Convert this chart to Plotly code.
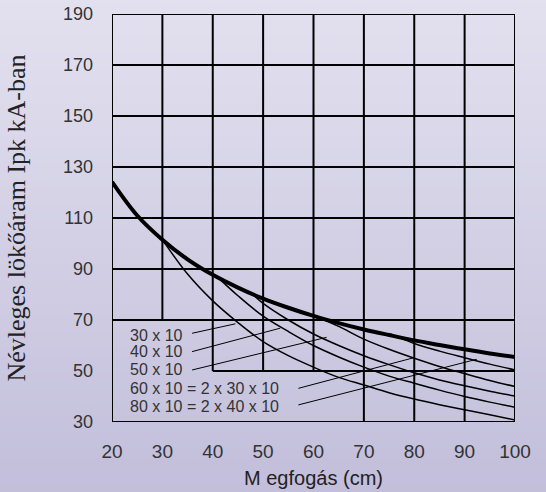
import plotly.graph_objects as go

# ---- data ----
thick_x = [20, 25, 30, 35, 40, 45, 50, 55, 60, 65, 70, 75, 80, 85, 90, 95, 100]
thick_y = [124.2, 111.0, 101.5, 93.8, 87.7, 82.7, 78.4, 74.8, 71.6, 68.8, 66.3, 64.1, 62.0, 60.2, 58.5, 56.9, 55.5]

c30_x = [30, 35, 40, 45, 50, 55, 60, 65, 70, 75, 80, 85, 90, 95, 100]
c30_y = [101.5, 88.0, 77.5, 69.0, 61.5, 56.0, 51.5, 47.5, 44.5, 41.5, 39.0, 36.8, 34.8, 32.8, 30.8]

c40_x = [41, 45, 50, 55, 60, 65, 70, 75, 80, 85, 90, 95, 100]
c40_y = [86.7, 79.5, 71.5, 65.5, 60.0, 55.5, 51.5, 48.0, 45.2, 42.5, 40.0, 37.8, 35.8]

c50_x = [48, 50, 55, 60, 65, 70, 75, 80, 85, 90, 95, 100]
c50_y = [80.0, 76.5, 70.0, 64.5, 60.0, 56.0, 52.5, 49.3, 46.5, 44.2, 42.1, 40.2]

c60_x = [61, 65, 70, 75, 80, 85, 90, 95, 100]
c60_y = [71.0, 67.5, 62.5, 58.5, 55.0, 51.8, 49.0, 46.3, 43.9]

c80_x = [77, 80, 85, 90, 95, 100]
c80_y = [63.2, 60.8, 57.8, 55.2, 52.7, 50.4]

labels = ["30 x 10", "40 x 10", "50 x 10",
          "60 x 10 = 2 x 30 x 10", "80 x 10 = 2 x 40 x 10"]
label_x = [23.3, 23.3, 23.3, 23.3, 23.3]
label_y = [64.1, 57.6, 50.4, 43.2, 36.0]
leader_x0 = [35.9, 35.9, 35.9, 57.0, 57.0]
leader_y0 = [64.8, 57.6, 50.4, 43.2, 36.7]
leader_x1 = [44.5, 53.4, 62.6, 80.1, 92.4]
leader_y1 = [68.5, 66.8, 63.2, 55.3, 54.6]

x_ticks = [20, 30, 40, 50, 60, 70, 80, 90, 100]
y_ticks = [30, 50, 70, 90, 110, 130, 150, 170, 190]

# grid segments: (x, y_from, y_to) and (y, x_from, x_to)
v_grid = [(30, 70, 190), (40, 50, 190), (50, 50, 190), (60, 50, 190),
          (70, 30, 190), (80, 30, 190), (90, 30, 190)]
h_grid = [(50, 40, 100), (70, 20, 100), (90, 20, 100), (110, 20, 100),
          (130, 20, 100), (150, 20, 100), (170, 20, 100)]

fig = go.Figure()

thin = dict(color="black", width=1.5)
for xs, ys, nm in [(c30_x, c30_y, labels[0]), (c40_x, c40_y, labels[1]),
                   (c50_x, c50_y, labels[2]), (c60_x, c60_y, labels[3]),
                   (c80_x, c80_y, labels[4])]:
    fig.add_trace(go.Scatter(x=xs, y=ys, mode="lines", line=dict(shape="spline", **thin),
                             name=nm, showlegend=False, hoverinfo="skip"))

fig.add_trace(go.Scatter(x=thick_x, y=thick_y, mode="lines",
                         line=dict(color="black", width=4, shape="spline"),
                         showlegend=False, hoverinfo="skip"))

for i in range(len(labels)):
    fig.add_trace(go.Scatter(x=[leader_x0[i], leader_x1[i]], y=[leader_y0[i], leader_y1[i]],
                             mode="lines", line=dict(color="black", width=1),
                             showlegend=False, hoverinfo="skip"))
    fig.add_annotation(x=label_x[i], y=label_y[i], text=labels[i], showarrow=False,
                       xanchor="left", yanchor="middle", borderpad=0,
                       font=dict(family="Liberation Sans, Arial, sans-serif", size=16, color="#333333"))

shapes = []
# background gradient
top = (227, 225, 239)
bot = (194, 190, 219)
n = 60
y_lo, y_hi = -0.19, 1.05
for k in range(n):
    t = k / (n - 1)
    c = tuple(round(bot[j] + (top[j] - bot[j]) * t) for j in range(3))
    y0 = y_lo + (y_hi - y_lo) * k / n
    y1 = y_lo + (y_hi - y_lo) * (k + 1) / n + 0.002
    shapes.append(dict(type="rect", xref="paper", yref="paper", x0=-0.4, x1=1.2, y0=y0, y1=y1,
                       fillcolor="rgb(%d,%d,%d)" % c, line=dict(width=0), layer="below"))
gl = dict(color="black", width=2)
for x, a, b in v_grid:
    shapes.append(dict(type="line", xref="x", yref="y", x0=x, x1=x, y0=a, y1=b, line=gl, layer="below"))
for y, a, b in h_grid:
    shapes.append(dict(type="line", xref="x", yref="y", x0=a, x1=b, y0=y, y1=y, line=gl, layer="below"))
shapes.append(dict(type="rect", xref="x", yref="y", x0=20, x1=100, y0=30, y1=190, line=gl, layer="below"))

fig.update_layout(
    width=546, height=492,
    margin=dict(l=112, r=31, t=14, b=70),
    paper_bgcolor="rgba(0,0,0,0)", plot_bgcolor="rgba(0,0,0,0)",
    shapes=shapes, showlegend=False,
    xaxis=dict(range=[20, 100], tickvals=x_ticks, showgrid=False, zeroline=False,
               showline=False, ticks="", ticklabelstandoff=16, automargin=False,
               tickfont=dict(family="Liberation Sans, Arial, sans-serif", size=19, color="#333333"),
               title=dict(text="M egfogás (cm)", standoff=9,
                          font=dict(family="Liberation Sans, Arial, sans-serif", size=20, color="#222222"))),
    yaxis=dict(range=[30, 190], tickvals=y_ticks, showgrid=False, zeroline=False,
               showline=False, ticks="", ticklabelstandoff=18, automargin=False,
               tickfont=dict(family="Liberation Sans, Arial, sans-serif", size=18, color="#333333"),
               title=dict(text="Névleges lökőáram Ipk kA-ban", standoff=29,
                          font=dict(family="Liberation Serif, Times New Roman, serif", size=26, color="#222222"))),
)

fig.write_html("out.html", config={"displayModeBar": False},
               post_script="document.body.style.margin='0';document.body.style.background='rgb(210,207,229)';")
